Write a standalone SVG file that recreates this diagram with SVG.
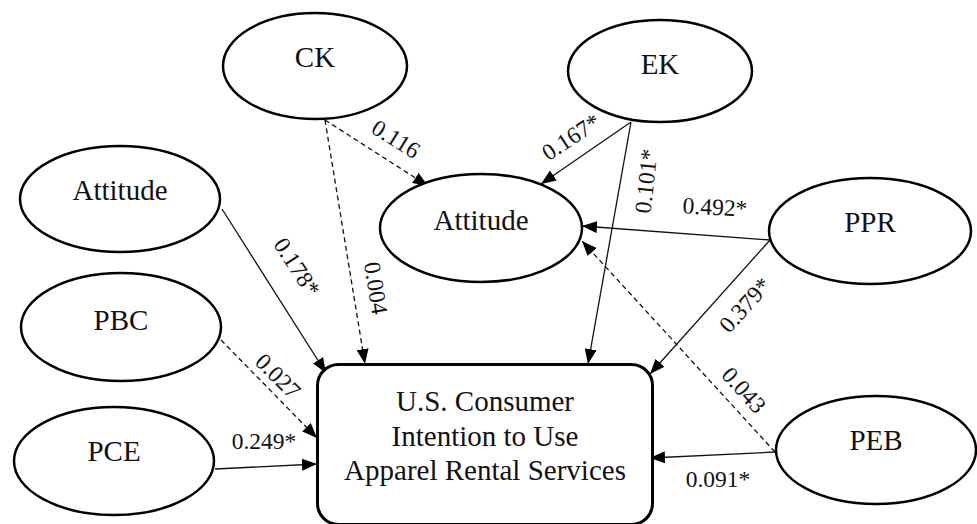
<svg xmlns="http://www.w3.org/2000/svg" width="977" height="524" viewBox="0 0 977 524">
  <style>
    .node { fill: #fff; stroke: #000; stroke-width: 2.5; }
    .box { fill: #fff; stroke: #000; stroke-width: 3; }
    .nlabel { font-family: "Liberation Serif", "Times New Roman", serif; font-size: 29px; fill: #111; text-anchor: middle; }
    .elabel { font-family: "Liberation Serif", "Times New Roman", serif; font-size: 23.5px; fill: #111; text-anchor: middle; }
    .edge { stroke: #111; stroke-width: 1.3; fill: none; marker-end: url(#arrow); }
    .dash { stroke-dasharray: 5 3.5; }
  </style>
  <defs>
    <marker id="arrow" markerUnits="userSpaceOnUse" markerWidth="15" markerHeight="12" refX="15" refY="6" orient="auto">
      <path d="M0,0 L15,6 L0,12 z" fill="#000"/>
    </marker>
  </defs>
  <rect width="977" height="524" fill="#fff"/>

  <!-- paths between constructs -->
  <g id="connectors">
    <line class="edge dash" x1="325" y1="120" x2="428" y2="186"/>
    <line class="edge dash" x1="325" y1="120" x2="365" y2="364"/>
    <line class="edge" x1="222" y1="209" x2="326" y2="373"/>
    <line class="edge dash" x1="221" y1="340" x2="317" y2="438"/>
    <line class="edge" x1="215" y1="469" x2="317" y2="464"/>
    <line class="edge" x1="631" y1="122" x2="541" y2="184"/>
    <line class="edge" x1="631" y1="122" x2="588" y2="364"/>
    <line class="edge" x1="770" y1="240" x2="582" y2="226"/>
    <line class="edge" x1="770" y1="240" x2="650" y2="374"/>
    <line class="edge dash" x1="775" y1="452" x2="582" y2="241"/>
    <line class="edge" x1="775" y1="452" x2="650" y2="458"/>

    <!-- path coefficients -->
    <text class="elabel" transform="translate(396,139) rotate(32)" y="8">0.116</text>
    <text class="elabel" transform="translate(376,288) rotate(81)" y="8">0.004</text>
    <text class="elabel" transform="translate(297,267) rotate(57)" y="8">0.178*</text>
    <text class="elabel" transform="translate(278,376) rotate(45)" y="8">0.027</text>
    <text class="elabel" x="264" y="449">0.249*</text>
    <text class="elabel" transform="translate(571,137) rotate(-33.5)" y="8">0.167*</text>
    <text class="elabel" transform="translate(646,181) rotate(-84)" y="8">0.101*</text>
    <text class="elabel" transform="translate(715,207) rotate(3)" y="8">0.492*</text>
    <text class="elabel" transform="translate(745,305) rotate(-48)" y="8">0.379*</text>
    <text class="elabel" transform="translate(744,390) rotate(48)" y="8">0.043</text>
    <text class="elabel" x="718" y="487">0.091*</text>
  </g>

  <g id="ck">
    <ellipse class="node" cx="315" cy="66" rx="92" ry="53"/>
    <text class="nlabel" x="315" y="67">CK</text>
  </g>
  <g id="ek">
    <ellipse class="node" cx="660" cy="71" rx="92" ry="51"/>
    <text class="nlabel" x="660" y="74">EK</text>
  </g>
  <g id="attitude-left">
    <ellipse class="node" cx="120" cy="199" rx="100" ry="53"/>
    <text class="nlabel" x="120" y="200">Attitude</text>
  </g>
  <g id="attitude-center">
    <ellipse class="node" cx="481" cy="228" rx="101" ry="54"/>
    <text class="nlabel" x="481" y="230">Attitude</text>
  </g>
  <g id="ppr">
    <ellipse class="node" cx="870" cy="231" rx="101" ry="53"/>
    <text class="nlabel" x="870" y="232">PPR</text>
  </g>
  <g id="pbc">
    <ellipse class="node" cx="121" cy="327" rx="100" ry="54"/>
    <text class="nlabel" x="121" y="330">PBC</text>
  </g>
  <g id="pce">
    <ellipse class="node" cx="114" cy="461" rx="100" ry="54"/>
    <text class="nlabel" x="114" y="461">PCE</text>
  </g>
  <g id="peb">
    <ellipse class="node" cx="876" cy="450" rx="100" ry="54"/>
    <text class="nlabel" x="876" y="450">PEB</text>
  </g>
  <g id="intention">
    <rect class="box" x="317.5" y="364.5" width="335" height="160" rx="21" ry="21"/>
    <text class="nlabel" x="485" y="411">U.S. Consumer</text>
    <text class="nlabel" x="485" y="446">Intention to Use</text>
    <text class="nlabel" x="485" y="480">Apparel Rental Services</text>
  </g>
</svg>
